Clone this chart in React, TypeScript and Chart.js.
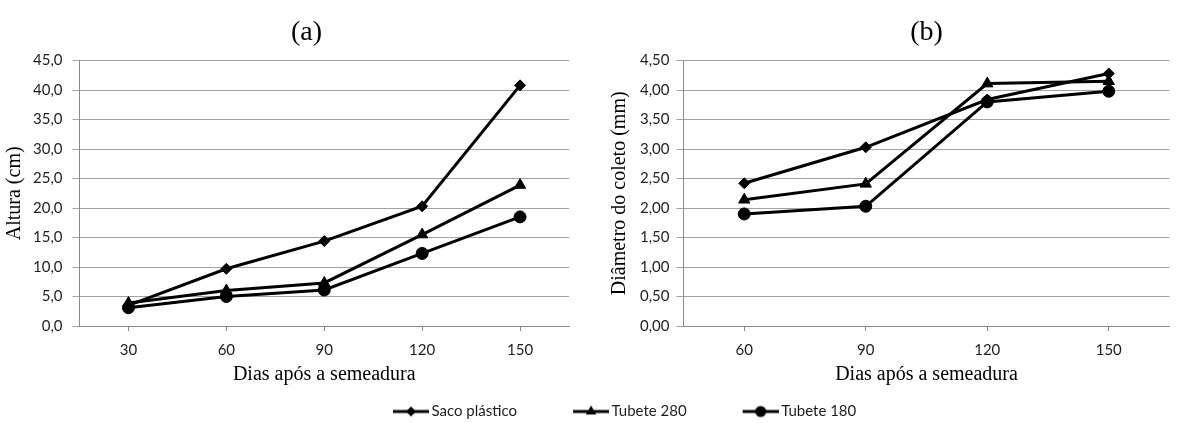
import React, { useEffect, useRef } from 'react';
import { Chart, registerables } from 'chart.js';

Chart.register(...registerables);

// ---------- data ----------
const seriesNames = ['Saco plástico', 'Tubete 280', 'Tubete 180'];
const markerStyles = ['rectRot', 'triangle', 'circle'];
const markerRadii = [5.5, 6.5, 6];

const daysA = ['30', '60', '90', '120', '150'];
const sacoA = [3.5, 9.7, 14.4, 20.3, 40.8];
const tubete280A = [3.9, 6.0, 7.3, 15.5, 23.9];
const tubete180A = [3.1, 5.0, 6.1, 12.3, 18.5];

const daysB = ['60', '90', '120', '150'];
const sacoB = [2.42, 3.03, 3.84, 4.28];
const tubete280B = [2.14, 2.41, 4.11, 4.15];
const tubete180B = [1.9, 2.03, 3.8, 3.98];

const titleA = '(a)';
const titleB = '(b)';
const xTitle = 'Dias após a semeadura';
const yTitleA = 'Altura (cm)';
const yTitleB = 'Diâmetro do coleto (mm)';
const yMaxA = 45;
const yStepA = 5;
const yDecimalsA = 1;
const yMaxB = 4.5;
const yStepB = 0.5;
const yDecimalsB = 2;

// ---------- styles ----------
const GRID = '#a3a3a3';
const AXIS = '#8a8a8a';
const TXT = '#1e1e1e';
const SERIF = { family: 'Liberation Serif', size: 20, weight: 'normal' as const };
const SANS = { family: 'Lato', size: 15, weight: 'normal' as const };
const TITLE_FONT = { family: 'Liberation Serif', size: 28, weight: 'normal' as const };

function makeDatasets(values: number[][]) {
  return values.map((d, i) => ({
    label: seriesNames[i],
    data: d,
    borderColor: '#000',
    backgroundColor: '#000',
    borderWidth: 3,
    pointStyle: markerStyles[i],
    pointRadius: markerRadii[i],
    pointBorderWidth: 1,
    pointBackgroundColor: '#000',
    pointBorderColor: '#000',
    tension: 0,
    fill: false,
  }));
}

function makeScales(cfg: {
  max: number; step: number; dec: number; title: string;
  tickPad: number; tTop: number; tBottom: number;
}) {
  return {
    x: {
      type: 'category' as const,
      offset: true,
      grid: { display: true, drawOnChartArea: false, drawTicks: true, tickLength: 5, color: AXIS, lineWidth: 1, offset: false },
      border: { display: true, color: AXIS, width: 1 },
      ticks: { padding: 10, color: TXT, font: SANS, maxRotation: 0, autoSkip: false },
      title: { display: true, text: xTitle, color: '#000', font: SERIF, padding: { top: -6, bottom: 4 } },
    },
    y: {
      type: 'linear' as const,
      min: 0,
      max: cfg.max,
      grid: { color: GRID, lineWidth: 1, drawTicks: true, tickLength: 7 },
      border: { display: true, color: AXIS, width: 1 },
      ticks: {
        stepSize: cfg.step,
        padding: cfg.tickPad,
        color: TXT,
        font: SANS,
        callback: (v: any) => Number(v).toFixed(cfg.dec).replace('.', ','),
      },
      title: { display: true, text: cfg.title, color: '#000', font: SERIF, padding: { top: cfg.tTop, bottom: cfg.tBottom } },
    },
  };
}

function makeIcon(style: string, r: number) {
  const c = document.createElement('canvas');
  c.width = 87;
  c.height = 16;
  const ctx = c.getContext('2d')!;
  ctx.strokeStyle = '#000';
  ctx.lineWidth = 3;
  ctx.beginPath();
  ctx.moveTo(51, 8);
  ctx.lineTo(87, 8);
  ctx.stroke();
  const cx = 69;
  const cy = 8;
  ctx.fillStyle = '#000';
  ctx.beginPath();
  if (style === 'rectRot') {
    ctx.moveTo(cx - r, cy);
    ctx.lineTo(cx, cy - r);
    ctx.lineTo(cx + r, cy);
    ctx.lineTo(cx, cy + r);
    ctx.closePath();
  } else if (style === 'triangle') {
    ctx.moveTo(cx, cy - r);
    ctx.lineTo(cx + r * Math.sin(Math.PI / 3), cy + r / 2);
    ctx.lineTo(cx - r * Math.sin(Math.PI / 3), cy + r / 2);
    ctx.closePath();
  } else {
    ctx.arc(cx, cy, r, 0, Math.PI * 2);
  }
  ctx.fill();
  return c;
}

const shiftTitle = (dx: number) => ({
  id: 'shiftTitle',
  afterLayout(chart: any) {
    const t = chart.titleBlock;
    if (t) {
      t.left += dx;
      t.right += dx;
    }
  },
});

export default function App() {
  const refA = useRef<HTMLCanvasElement>(null);
  const refB = useRef<HTMLCanvasElement>(null);
  const refL = useRef<HTMLCanvasElement>(null);

  useEffect(() => {
    const charts: Chart[] = [];

    charts.push(
      new Chart(refA.current!, {
        type: 'line',
        data: { labels: daysA, datasets: makeDatasets([sacoA, tubete280A, tubete180A]) as any },
        options: {
          responsive: false,
          animation: false,
          events: [],
          layout: { padding: { left: 0, right: 39, top: 0, bottom: 4 } },
          scales: makeScales({ max: yMaxA, step: yStepA, dec: yDecimalsA, title: yTitleA, tickPad: 10, tTop: 3, tBottom: -4 }) as any,
          plugins: {
            legend: { display: false },
            tooltip: { enabled: false },
            title: { display: true, text: titleA, color: '#000', font: TITLE_FONT, padding: { top: 16, bottom: 11 } },
          },
        },
        plugins: [shiftTitle(22)],
      })
    );

    charts.push(
      new Chart(refB.current!, {
        type: 'line',
        data: { labels: daysB, datasets: makeDatasets([sacoB, tubete280B, tubete180B]) as any },
        options: {
          responsive: false,
          animation: false,
          events: [],
          layout: { padding: { left: 0, right: 3, top: 0, bottom: 4 } },
          scales: makeScales({ max: yMaxB, step: yStepB, dec: yDecimalsB, title: yTitleB, tickPad: 7, tTop: 8, tBottom: 1 }) as any,
          plugins: {
            legend: { display: false },
            tooltip: { enabled: false },
            title: { display: true, fullSize: false, text: titleB, color: '#000', font: TITLE_FONT, padding: { top: 16, bottom: 11 } },
          },
        },
      })
    );

    const icons = markerStyles.map((s, i) => makeIcon(s, markerRadii[i] - 0.5));

    charts.push(
      new Chart(refL.current!, {
        type: 'line',
        data: {
          labels: [],
          datasets: seriesNames.map((n, i) => ({ label: n, data: [], borderColor: '#000', backgroundColor: '#000', pointStyle: markerStyles[i] })) as any,
        },
        options: {
          responsive: false,
          animation: false,
          events: [],
          scales: { x: { display: false }, y: { display: false } },
          plugins: {
            tooltip: { enabled: false },
            legend: {
              display: true,
              position: 'top',
              align: 'start',
              labels: {
                usePointStyle: true,
                pointStyleWidth: 77,
                padding: 10,
                color: TXT,
                font: SANS,
                generateLabels: (chart: any) =>
                  chart.data.datasets.map((ds: any, i: number) => ({
                    text: ds.label,
                    pointStyle: icons[i],
                    fillStyle: '#000',
                    strokeStyle: '#000',
                    lineWidth: 0,
                    hidden: false,
                    datasetIndex: i,
                    fontColor: TXT,
                  })),
              },
            },
          },
        },
      })
    );

    return () => charts.forEach((c) => c.destroy());
  }, []);

  return (
    <div style={{ position: 'fixed', left: 0, top: 0, width: 1177, height: 423, background: '#fff', overflow: 'hidden' }}>
      <canvas ref={refA} width={608} height={395} style={{ position: 'absolute', left: 0, top: 0 }} />
      <canvas ref={refB} width={577} height={395} style={{ position: 'absolute', left: 600, top: 0 }} />
      <canvas ref={refL} width={840} height={90} style={{ position: 'absolute', left: 337, top: 394 }} />
    </div>
  );
}
